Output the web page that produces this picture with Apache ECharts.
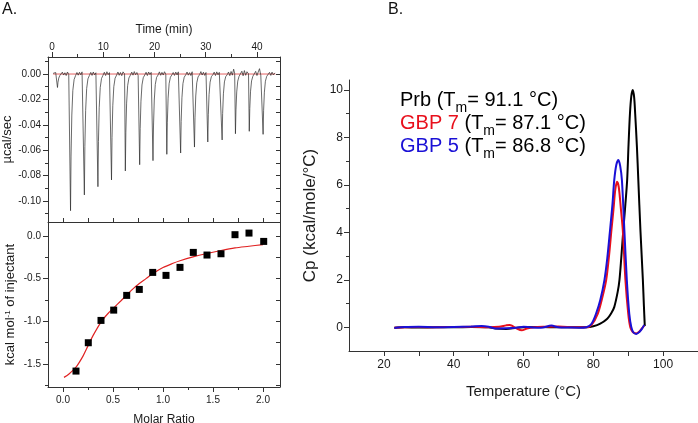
<!DOCTYPE html>
<html><head><meta charset="utf-8">
<script src="https://cdn.jsdelivr.net/npm/echarts@6/dist/echarts.min.js"></script>
<style>html,body{margin:0;padding:0;background:#fff}#c{width:698px;height:423px}</style>
</head><body><div id="c"></div>
<script>
// ---------- Panel A (top): raw ITC thermogram [time (min), µcal/sec] ----------
const itcRaw = [
[0.2,0.0005],[0.45,-0.001],[0.7,0.0012],[0.95,0.0003],
[1.05,-0.0106],[1.15,-0.0064],[1.3,-0.0032],[1.5,-0.0013],[1.75,-0.0004],
[2.0,0.0015],[2.25,-0.0008],[2.5,0.001],[2.75,-0.0012],[3.0,0.0016],[3.25,-0.0004],[3.45,0.0008],
[3.6,-0.1076],[3.7,-0.0646],[3.85,-0.0323],[4.05,-0.0129],[4.3,-0.0043],[4.6,-0.0011],
[4.85,0.0012],[5.1,-0.0009],[5.35,0.0014],[5.6,-0.0006],[5.85,0.0017],[6.1,0.0002],
[6.3,-0.0952],[6.4,-0.0571],[6.55,-0.0286],[6.75,-0.0114],[7.0,-0.0038],[7.3,-0.001],
[7.55,0.0013],[7.8,-0.0011],[8.05,0.0016],[8.3,-0.0007],[8.55,0.001],[8.8,0.0001],
[8.95,-0.0887],[9.05,-0.0532],[9.2,-0.0266],[9.4,-0.0106],[9.65,-0.0035],[9.95,-0.0009],
[10.2,0.0014],[10.45,-0.0012],[10.7,0.0018],[10.95,-0.0005],[11.2,0.0011],[11.45,0.0002],
[11.6,-0.0834],[11.7,-0.05],[11.85,-0.025],[12.05,-0.01],[12.3,-0.0033],[12.6,-0.0008],
[12.85,0.0016],[13.1,-0.001],[13.35,0.0012],[13.6,-0.0013],[13.85,0.0017],[14.15,0.0001],
[14.3,-0.0763],[14.4,-0.0458],[14.55,-0.0229],[14.75,-0.0092],[15.0,-0.0031],[15.3,-0.0008],
[15.55,0.0015],[15.8,-0.0009],[16.05,0.0019],[16.3,-0.0006],[16.55,0.0012],[16.8,-0.0011],[16.95,0.0003],
[17.1,-0.0714],[17.2,-0.0428],[17.35,-0.0214],[17.55,-0.0086],[17.8,-0.0029],[18.1,-0.0007],
[18.35,0.0014],[18.6,-0.0012],[18.85,0.0016],[19.1,-0.0004],[19.35,0.0013],[19.55,0.0001],
[19.7,-0.0682],[19.8,-0.0409],[19.95,-0.0205],[20.15,-0.0082],[20.4,-0.0027],[20.7,-0.0007],
[20.95,0.0017],[21.2,-0.001],[21.45,0.0013],[21.7,-0.0008],[21.95,0.0018],[22.2,-0.0002],
[22.4,-0.0632],[22.5,-0.0379],[22.65,-0.019],[22.85,-0.0076],[23.1,-0.0025],[23.4,-0.0006],
[23.65,0.0012],[23.9,-0.0011],[24.15,0.0015],[24.4,-0.0007],[24.65,0.0017],[24.95,0.0002],
[25.1,-0.0622],[25.2,-0.0373],[25.35,-0.0187],[25.55,-0.0075],[25.8,-0.0025],[26.1,-0.0006],
[26.35,0.0016],[26.6,-0.0009],[26.85,0.0011],[27.1,-0.0012],[27.35,0.0018],[27.6,0.0003],
[27.8,-0.0575],[27.9,-0.0345],[28.05,-0.0173],[28.25,-0.0069],[28.5,-0.0023],[28.8,-0.0005],
[29.05,0.0019],[29.3,-0.0008],[29.55,0.0014],[29.8,-0.0011],[30.05,0.0012],[30.25,0.0001],
[30.4,-0.0535],[30.5,-0.0321],[30.65,-0.0161],[30.85,-0.0064],[31.1,-0.0021],[31.4,-0.0005],
[31.65,0.0015],[31.9,-0.0012],[32.15,0.0017],[32.4,-0.0006],[32.65,0.0013],[32.95,0.0002],
[33.2,-0.0519],[33.3,-0.0311],[33.45,-0.0156],[33.65,-0.0062],[33.9,-0.0021],[34.2,-0.0005],
[34.45,0.0016],[34.7,-0.0013],[34.95,0.002],[35.2,-0.0009],[35.45,0.0038],[35.65,0.0004],
[35.8,-0.047],[35.9,-0.0282],[36.05,-0.0141],[36.25,-0.0056],[36.5,-0.0019],[36.8,-0.0004],
[37.05,0.0022],[37.3,-0.0014],[37.55,0.0027],[37.8,-0.001],[38.05,0.0018],[38.35,0.0002],
[38.5,-0.0451],[38.6,-0.0271],[38.75,-0.0135],[38.95,-0.0054],[39.2,-0.0018],[39.5,-0.0004],
[39.75,0.0021],[40.0,-0.0012],[40.25,0.0016],[40.5,0.0042],[40.75,-0.0008],[41.0,0.0006],
[41.2,-0.0475],[41.3,-0.0285],[41.45,-0.0143],[41.65,-0.0057],[41.9,-0.0019],[42.2,-0.0004],
[42.45,0.0013],[42.7,-0.0011],[42.95,0.0015],[43.2,-0.0007],[43.5,0.0009]
];
const itcBaselineT = [0.2, 43.6];
const itcBaselineV = [0, 0];

// ---------- Panel A (bottom): integrated heats ----------
const molarRatio = [0.13,0.253,0.38,0.507,0.637,0.763,0.897,1.03,1.17,1.303,1.44,1.58,1.72,1.86,2.007];
const heatKcal   = [-1.586,-1.253,-0.991,-0.870,-0.697,-0.627,-0.427,-0.462,-0.368,-0.192,-0.223,-0.208,0.016,0.035,-0.063];
const fitX = [0.01,0.06,0.13,0.2,0.25,0.3,0.38,0.45,0.51,0.58,0.64,0.7,0.76,0.83,0.9,1.0,1.1,1.17,1.3,1.44,1.58,1.72,1.86,2.0];
const fitY = [-1.66,-1.62,-1.54,-1.41,-1.29,-1.17,-1.01,-0.91,-0.84,-0.76,-0.69,-0.62,-0.56,-0.50,-0.44,-0.37,-0.32,-0.29,-0.245,-0.205,-0.17,-0.14,-0.12,-0.10];

// ---------- Panel B: DSC ----------
const prbT  = [23,26,30,35,40,45,50,52,55,58,60,65,70,75,78,80,82,84,85.1,86,87,87.5,88,88.6,89.2,89.7,90.1,90.5,90.9,91.3,91.7,92.0,92.5,92.9,93.5,94.2,94.5,94.75];
const prbCp = [-0.02,0.0,-0.01,0.0,0.0,0.01,0.0,-0.05,-0.07,-0.02,0.0,0.01,0.0,0.0,0.0,0.04,0.15,0.36,0.58,0.85,1.5,2.0,2.9,4.1,5.2,6.2,7.7,9.0,9.75,10.0,9.7,9.0,7.6,6.2,4.1,2.0,0.9,0.05];
const gbp7T  = [23,26,30,35,40,45,50,53,55,56,57,58,59.5,61,63,66,70,75,78,79.5,81.3,82.5,83.7,84.5,85.2,85.8,86.3,86.8,87.3,87.9,88.45,89.2,90.0,90.6,91.3,92.3,93.2,94.0,94.6];
const gbp7Cp = [-0.02,0.0,0.01,0.0,0.01,0.02,0.0,0.02,0.08,0.1,0.04,-0.05,-0.13,-0.05,0.0,0.02,0.03,0.0,0.0,0.1,0.58,1.2,2.0,3.0,4.1,5.0,5.8,6.13,5.9,5.0,4.1,2.0,0.58,0.0,-0.2,-0.26,-0.18,-0.04,0.08];
const gbp5T  = [23,26,30,35,40,45,48,50,52,55,58,60,62,65,68,70,73,76,78,79.5,80.8,82,83.2,84,84.8,85.5,86,86.6,87.2,87.7,88.2,88.9,89.6,90.3,90.9,91.5,92.3,93.2,94.0,94.6];
const gbp5Cp = [-0.03,0.01,0.02,0.0,0.01,0.03,0.05,0.02,-0.05,-0.04,-0.02,0.02,0.0,-0.02,0.07,0.0,-0.01,-0.02,0.0,0.15,0.58,1.15,2.0,2.9,4.1,5.2,6.2,6.85,7.05,6.8,6.2,4.1,2.0,0.58,0.0,-0.22,-0.28,-0.2,-0.05,0.1];
const legendRows = [
  {name:'Prb',   tm:'91.1', color:'#000000'},
  {name:'GBP 7', tm:'87.1', color:'#e8101c'},
  {name:'GBP 5', tm:'86.8', color:'#1a10d6'}
];

// ---------- tick labels ----------
const timeTicks = [0,10,20,30,40];
const timeMinor = [5,15,25,35];
const rawTicks = [0,-0.02,-0.04,-0.06,-0.08,-0.10];
const rawMinor = [0.01,-0.01,-0.03,-0.05,-0.07,-0.09,-0.11];
const mrTicks = [0,0.5,1.0,1.5,2.0];
const mrMinor = [0.25,0.75,1.25,1.75];
const heatTicks = [0,-0.5,-1.0,-1.5];
const heatMinor = [-0.25,-0.75,-1.25,-1.75];
const tempTicks = [20,40,60,80,100];
const tempAllTicks = [20,30,40,50,60,70,80,90,100,110];
const cpTicks = [0,2,4,6,8,10];
const cpMinor = [1,3,5,7,9];

const FONT = 'Liberation Sans, Arial, Helvetica, sans-serif';
const AX = '#333';
const zip = (a,b) => a.map((v,i)=>[v,b[i]]);

function axis(o){
  const a = {
    type:'value', gridIndex:o.g, min:o.min, max:o.max, position:o.pos,
    splitLine:{show:false},
    axisLine:{show:!!o.line, onZero:false, lineStyle:{color:AX,width:1}},
    axisTick:{show:!!o.ticks, inside:!!o.inside, length:o.tl||5, lineStyle:{color:AX,width:1}, customValues:o.ticks},
    axisLabel:{show:!!o.labels, customValues:o.labels, margin:o.margin||6, fontSize:o.fs||10, color:'#1a1a1a', fontFamily:FONT, formatter:o.fmt},
  };
  if(o.name!==undefined){
    a.name=o.name; a.nameLocation='middle'; a.nameGap=o.gap;
    a.nameTextStyle={fontSize:o.nfs||12, color:'#1a1a1a', fontFamily:FONT, rich:o.rich};
  }
  return a;
}

const chart = echarts.init(document.getElementById('c'), null, {renderer:'canvas'});
const legendText = legendRows.map((r,i)=>({
  type:'text', x:400, y:90+i*23.3, z:10,
  style:{
    text:'{n|'+r.name+'}{t| (T}{s|m}{t|= '+r.tm+' °C)}',
    fontFamily:FONT,
    rich:{
      n:{fontSize:20, lineHeight:22, fill:r.color, fontFamily:FONT, verticalAlign:'top'},
      t:{fontSize:20, lineHeight:22, fill:'#000', fontFamily:FONT, verticalAlign:'top'},
      s:{fontSize:14, lineHeight:14, fill:'#000', fontFamily:FONT, verticalAlign:'top', padding:[11,0,0,0]}
    }
  }
}));

chart.setOption({
  animation:false,
  textStyle:{fontFamily:FONT},
  grid:[
    {left:48, top:57, width:232, height:165, outerBoundsMode:'none'},
    {left:48, top:222, width:232, height:165, outerBoundsMode:'none'},
    {left:349, top:80, width:349, height:271, outerBoundsMode:'none'}
  ],
  xAxis:[
    axis({g:0,min:-0.8,max:44.5,pos:'top',line:true,ticks:timeTicks,labels:timeTicks,tl:5,margin:5,fs:10,
          fmt:v=>String(v),name:'Time (min)',gap:21,nfs:12}),
    axis({g:0,min:-0.8,max:44.5,pos:'top',ticks:timeMinor,tl:3}),
    axis({g:1,min:-0.15,max:2.17,pos:'bottom',line:true,ticks:mrTicks,labels:mrTicks,tl:5,margin:8,fs:10,
          fmt:v=>v.toFixed(1),name:'Molar Ratio',gap:27,nfs:12}),
    axis({g:1,min:-0.15,max:2.17,pos:'bottom',ticks:mrMinor,tl:3}),
    axis({g:1,min:-0.15,max:2.17,pos:'top',line:true,ticks:[0,0.25,0.5,0.75,1,1.25,1.5,1.75,2],tl:4}),
    axis({g:2,min:10,max:110,pos:'bottom',line:true,ticks:tempAllTicks,labels:tempTicks,tl:5,margin:8,fs:12,
          fmt:v=>String(v),name:'Temperature (°C)',gap:33,nfs:15})
  ],
  yAxis:[
    axis({g:0,min:-0.1165,max:0.0134,pos:'left',line:true,ticks:rawTicks,labels:rawTicks,tl:5,margin:7,fs:10,
          fmt:v=>v.toFixed(2),name:'µcal/sec',gap:32,nfs:13}),
    axis({g:0,min:-0.1165,max:0.0134,pos:'left',ticks:rawMinor,tl:3}),
    axis({g:0,min:-0.1165,max:0.0134,pos:'right',line:true,ticks:rawTicks.concat(rawMinor),inside:true,tl:4}),
    axis({g:1,min:-1.773,max:0.165,pos:'left',line:true,ticks:heatTicks,labels:heatTicks,tl:5,margin:7,fs:10,
          fmt:v=>v.toFixed(1),name:'{t|kcal mol}{s|-1}{t| of injectant}',gap:28,nfs:13,
          rich:{t:{fontSize:13,lineHeight:16,verticalAlign:'top',fontFamily:FONT,color:'#1a1a1a'},
                s:{fontSize:8,lineHeight:9,verticalAlign:'top',fontFamily:FONT,color:'#1a1a1a'}}}),
    axis({g:1,min:-1.773,max:0.165,pos:'left',ticks:heatMinor,tl:3}),
    axis({g:1,min:-1.773,max:0.165,pos:'right',line:true,ticks:heatTicks.concat(heatMinor),inside:true,tl:4}),
    axis({g:2,min:-1,max:10.42,pos:'left',line:true,ticks:cpTicks,labels:cpTicks,tl:5,margin:6,fs:12,
          fmt:v=>String(v),name:'Cp (kcal/mole/°C)',gap:30,nfs:17}),
    axis({g:2,min:-1,max:10.42,pos:'left',ticks:cpMinor,tl:3})
  ],
  graphic:[
    {type:'text', x:2, y:2, style:{text:'A.', fontSize:16, fontFamily:FONT, fill:'#111'}},
    {type:'text', x:388, y:2, style:{text:'B.', fontSize:16, fontFamily:FONT, fill:'#111'}}
  ].concat(legendText),
  series:[
    {type:'line', xAxisIndex:0, yAxisIndex:0, data:zip(itcBaselineT,itcBaselineV), symbol:'none',
     lineStyle:{color:'#e03a3a', width:0.8}, z:2},
    {type:'line', xAxisIndex:0, yAxisIndex:0, data:itcRaw, symbol:'none',
     lineStyle:{color:'#2a2a2a', width:0.7}, z:3},
    {type:'line', xAxisIndex:2, yAxisIndex:3, data:zip(fitX,fitY), symbol:'none', smooth:0.3,
     lineStyle:{color:'#e02222', width:1.2}, z:2},
    {type:'scatter', xAxisIndex:2, yAxisIndex:3, data:zip(molarRatio,heatKcal), symbol:'rect', symbolSize:7,
     itemStyle:{color:'#000', opacity:1}, z:3},
    {type:'line', xAxisIndex:5, yAxisIndex:6, data:zip(prbT,prbCp), symbol:'none', smooth:0.3,
     lineStyle:{color:'#000', width:2}, z:2},
    {type:'line', xAxisIndex:5, yAxisIndex:6, data:zip(gbp7T,gbp7Cp), symbol:'none', smooth:0.3,
     lineStyle:{color:'#e8101c', width:2}, z:3},
    {type:'line', xAxisIndex:5, yAxisIndex:6, data:zip(gbp5T,gbp5Cp), symbol:'none', smooth:0.3,
     lineStyle:{color:'#1a10d6', width:2}, z:4}
  ]
});
</script></body></html>
